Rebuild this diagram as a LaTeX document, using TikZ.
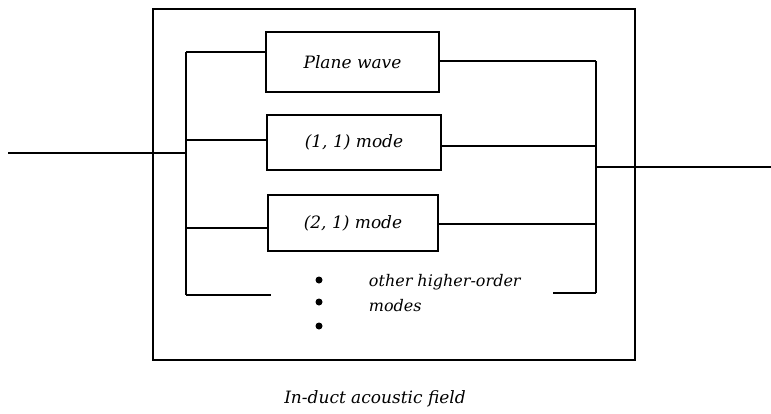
\documentclass[tikz,border=0pt]{standalone}
\usepackage{fontspec}
\setmainfont{DejaVu Serif}
\begin{document}
\begin{tikzpicture}[x=1pt,y=-1pt,line width=1.2pt,every node/.style={font=\itshape\fontsize{17}{20}\selectfont}]
\useasboundingbox (0,0) rectangle (771,413);
\tikzset{modebox/.style={draw,minimum height=56pt,inner sep=0pt}}
% duct frame
\draw[line width=1.3pt] (153,9) rectangle (635,360);
% mode branches
\node[modebox,minimum width=173pt,minimum height=60pt] (plane) at (352.5,62) {Plane wave};
\node[modebox,minimum width=174pt,minimum height=55pt] (m11) at (354,142.5) {(1, 1) mode};
\node[modebox,minimum width=170pt] (m21) at (353,223) {(2, 1) mode};
% left and right bus
\coordinate (lt) at (186,52);
\coordinate (lb) at (186,295);
\coordinate (rt) at (596,61);
\coordinate (rb) at (596,293);
\coordinate (in) at (8,153);
\coordinate (out) at (771,167);
\draw (lt) -- (lb);
\draw (rt) -- (rb);
\draw (in) -- (in -| lt);
\draw (out -| rt) -- (out);
\draw (lt) -- (lt -| plane.west);
\draw (plane.east |- rt) -- (rt);
\draw (186,140) -- (m11.west |- 0,140);
\draw (m11.east |- 0,146) -- (596,146);
\draw (186,228) -- (m21.west |- 0,228);
\draw (m21.east |- 0,224) -- (596,224);
\coordinate (hl) at (271,295);
\coordinate (hr) at (553,293);
\draw (lb) -- (hl);
\draw (hr) -- (rb);
% higher-order modes
\foreach \y [count=\i] in {280,302,326}
  \fill (319,\y) circle (3.5pt) coordinate (dot\i);
\node[anchor=west,font=\itshape\fontsize{16}{19}\selectfont] (other) at (365,282) {other higher-order};
\node[anchor=west,font=\itshape\fontsize{16}{19}\selectfont] (modes) at (365,306) {modes};
\node (caption) at (375,399) {In-duct acoustic field};
\end{tikzpicture}
\end{document}
